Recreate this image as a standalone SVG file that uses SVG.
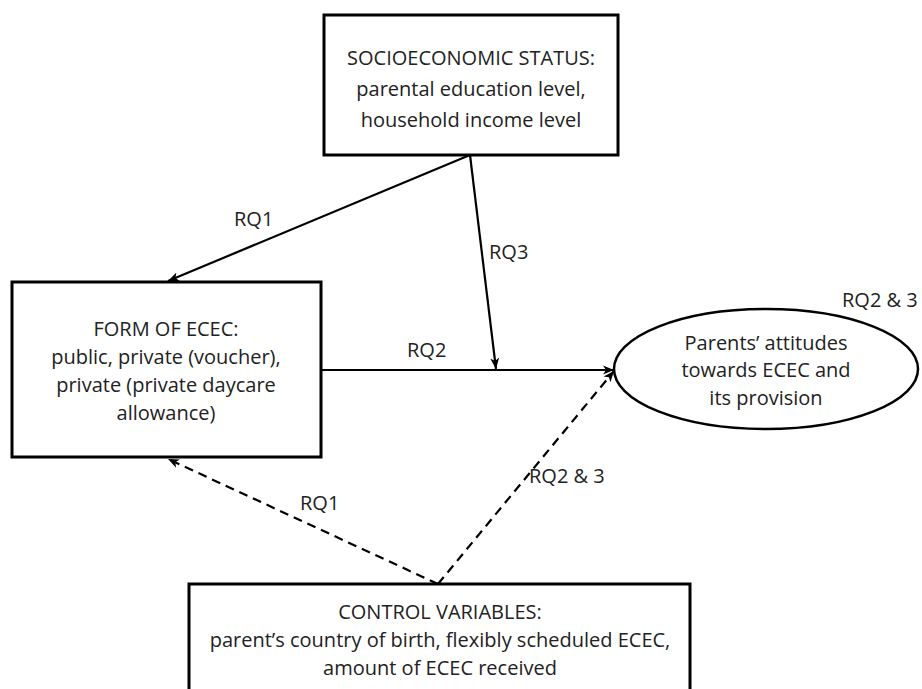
<svg xmlns="http://www.w3.org/2000/svg" width="922" height="689" viewBox="0 0 922 689">
  <defs>
    <marker id="arrow" markerUnits="userSpaceOnUse" markerWidth="12" markerHeight="10" refX="11" refY="5" orient="auto">
      <path d="M0,0.5 L11,5 L0,9.5 L3,5 Z" fill="#000"/>
    </marker>
    <style>
      .box { fill: #fff; stroke: #000; stroke-width: 3; }
      .t { font-family: "Open Sans", "Liberation Sans", sans-serif; font-size: 20px; fill: #222; text-anchor: middle; }
      .lbl { font-family: "Open Sans", "Liberation Sans", sans-serif; font-size: 20px; fill: #222; }
      .c { fill: none; stroke: #000; stroke-width: 2.2; marker-end: url(#arrow); }
      .d { stroke-dasharray: 9 6; }
    </style>
  </defs>
  <rect width="922" height="689" fill="#fff"/>

  <g id="connectors">
    <line class="c" x1="470" y1="155" x2="168" y2="281"/>
    <line class="c" x1="470" y1="155" x2="496" y2="369"/>
    <line class="c" x1="321" y1="370" x2="614" y2="370"/>
    <line class="c d" x1="438" y1="584" x2="168" y2="459"/>
    <line class="c d" x1="438" y1="584" x2="614" y2="371"/>
    <text class="lbl" x="234" y="226">RQ1</text>
    <text class="lbl" x="489" y="259">RQ3</text>
    <text class="lbl" x="407" y="357">RQ2</text>
    <text class="lbl" x="300" y="510">RQ1</text>
    <text class="lbl" x="529" y="483">RQ2 &amp; 3</text>
    <text class="lbl" x="842" y="307">RQ2 &amp; 3</text>
  </g>

  <g id="ses">
    <rect class="box" x="324" y="15" width="294" height="140"/>
    <text class="t" x="471" y="65">SOCIOECONOMIC STATUS:</text>
    <text class="t" x="471" y="96">parental education level,</text>
    <text class="t" x="471" y="127">household income level</text>
  </g>

  <g id="form">
    <rect class="box" x="12" y="282" width="309" height="175"/>
    <text class="t" x="166" y="336">FORM OF ECEC:</text>
    <text class="t" x="166" y="364">public, private (voucher),</text>
    <text class="t" x="166" y="392">private (private daycare</text>
    <text class="t" x="166" y="420">allowance)</text>
  </g>

  <g id="attitudes">
    <ellipse cx="766" cy="369" rx="152" ry="60" fill="#fff" stroke="#000" stroke-width="2.5"/>
    <text class="t" x="766" y="350">Parents’ attitudes</text>
    <text class="t" x="766" y="377">towards ECEC and</text>
    <text class="t" x="766" y="405">its provision</text>
  </g>

  <g id="control">
    <rect class="box" x="189" y="584" width="501" height="115"/>
    <text class="t" x="440" y="619">CONTROL VARIABLES:</text>
    <text class="t" x="440" y="647">parent’s country of birth, flexibly scheduled ECEC,</text>
    <text class="t" x="440" y="675">amount of ECEC received</text>
  </g>
</svg>
